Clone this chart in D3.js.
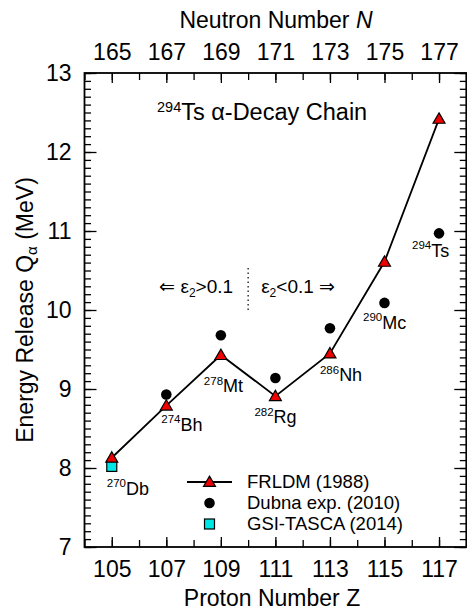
<!DOCTYPE html>
<html><head><meta charset="utf-8">
<script src="https://cdn.jsdelivr.net/npm/d3@7"></script>
<style>
html,body{margin:0;padding:0;background:#fff;}
svg{display:block;font-family:"Liberation Sans",Arial,sans-serif;}
</style></head>
<body>
<svg id="chart" width="467" height="611"></svg>
<script>
// ---- data ----
const protonZ = [105, 107, 109, 111, 113, 115, 117];
const frldm = [8.13, 8.79, 9.43, 8.91, 9.45, 10.61, 12.42];
const dubnaZ = [107, 109, 111, 113, 115, 117];
const dubna = [8.93, 9.68, 9.14, 9.77, 10.09, 10.97];
const gsiZ = [105];
const gsi = [8.02];
const nuclideMass = ["270", "274", "278", "282", "286", "290", "294"];
const nuclideSym = ["Db", "Bh", "Mt", "Rg", "Nh", "Mc", "Ts"];
const xTicks = [105, 107, 109, 111, 113, 115, 117];
const topTicks = [165, 167, 169, 171, 173, 175, 177];
const yTicks = [7, 8, 9, 10, 11, 12, 13];
const legendLabels = ["FRLDM (1988)", "Dubna exp. (2010)", "GSI-TASCA (2014)"];

// ---- layout ----
const svg = d3.select("#chart");
const L = 84.5, R = 466.3, T = 73, B = 547;
const x = d3.scaleLinear().domain([104, 118]).range([L, R]);
const y = d3.scaleLinear().domain([7, 13]).range([B, T]);
const FONT = 23;

// frame
svg.append("rect").attr("x", L).attr("y", T).attr("width", R - L).attr("height", B - T)
  .attr("fill", "none").attr("stroke", "#000").attr("stroke-width", 1.8);

function styleAxis(g) {
  g.select(".domain").remove();
  g.selectAll(".tick line").attr("stroke", "#000").attr("stroke-width", 1.3);
  g.selectAll("text").attr("font-size", FONT).attr("fill", "#000").attr("font-family", "Liberation Sans, Arial, sans-serif");
}
const xMinor = d3.range(104, 119, 1);
const yMinor = d3.range(70, 131, 1).map(v => v / 10);

// bottom
svg.append("g").attr("transform", `translate(0,${B})`)
  .call(d3.axisBottom(x).tickValues(xMinor).tickSize(-7).tickFormat("")).call(styleAxis);
svg.append("g").attr("transform", `translate(0,${B})`)
  .call(d3.axisBottom(x).tickValues(xTicks).tickSize(-10).tickPadding(14).tickFormat(d3.format("d"))).call(styleAxis);
// top (neutron number N = Z + 60)
const xN = d3.scaleLinear().domain([164, 178]).range([L, R]);
svg.append("g").attr("transform", `translate(0,${T})`)
  .call(d3.axisTop(xN).tickValues(xMinor.map(v => v + 60)).tickSize(-7).tickFormat("")).call(styleAxis);
svg.append("g").attr("transform", `translate(0,${T})`)
  .call(d3.axisTop(xN).tickValues(topTicks).tickSize(-10).tickPadding(13).tickFormat(d3.format("d"))).call(styleAxis);
// left
svg.append("g").attr("transform", `translate(${L},0)`)
  .call(d3.axisLeft(y).tickValues(yMinor).tickSize(-6.5).tickFormat("")).call(styleAxis);
svg.append("g").attr("transform", `translate(${L},0)`)
  .call(d3.axisLeft(y).tickValues(yTicks).tickSize(-12).tickPadding(13).tickFormat(d3.format("d"))).call(styleAxis);
// right
svg.append("g").attr("transform", `translate(${R},0)`)
  .call(d3.axisRight(y).tickValues(yMinor).tickSize(-6.5).tickFormat("")).call(styleAxis);
svg.append("g").attr("transform", `translate(${R},0)`)
  .call(d3.axisRight(y).tickValues(yTicks).tickSize(-12).tickFormat("")).call(styleAxis);

// axis titles
svg.append("text").attr("x", 272).attr("y", 606).attr("text-anchor", "middle")
  .attr("font-size", FONT).text("Proton Number Z");
const topTitle = svg.append("text").attr("x", 276).attr("y", 28).attr("text-anchor", "middle").attr("font-size", FONT);
topTitle.append("tspan").text("Neutron Number ");
topTitle.append("tspan").attr("font-style", "italic").text("N");
const yl = svg.append("text").attr("transform", `translate(33,${(T + B) / 2}) rotate(-90)`)
  .attr("text-anchor", "middle").attr("font-size", FONT);
yl.append("tspan").text("Energy Release Q");
yl.append("tspan").attr("font-size", 15).attr("dy", 4).text("α");
yl.append("tspan").attr("dy", -4).text(" (MeV)");

// chart title
const title = svg.append("text").attr("x", 157).attr("y", 120).attr("font-size", 23.5);
title.append("tspan").attr("font-size", 14.5).attr("dy", -8).text("294");
title.append("tspan").attr("dy", 8).text("Ts α-Decay Chain");

// deformation annotation
svg.append("line").attr("x1", x(110)).attr("x2", x(110)).attr("y1", y(10.0)).attr("y2", y(10.55))
  .attr("stroke", "#000").attr("stroke-width", 1.2).attr("stroke-dasharray", "1.5,3");
const a1 = svg.append("text").attr("x", x(110) - 15).attr("y", 293).attr("text-anchor", "end").attr("font-size", 19);
a1.append("tspan").text("⇐ ε");
a1.append("tspan").attr("font-size", 12).attr("dy", 4).text("2");
a1.append("tspan").attr("dy", -4).text(">0.1");
const a2 = svg.append("text").attr("x", x(110) + 13).attr("y", 293).attr("font-size", 19);
a2.append("tspan").text("ε");
a2.append("tspan").attr("font-size", 12).attr("dy", 4).text("2");
a2.append("tspan").attr("dy", -4).text("<0.1 ⇒");

// FRLDM line
const frPts = protonZ.map((z, i) => [z, frldm[i]]);
svg.append("path").datum(frPts)
  .attr("d", d3.line().x(d => x(d[0])).y(d => y(d[1])))
  .attr("fill", "none").attr("stroke", "#000").attr("stroke-width", 1.8);

const tri = d3.symbol().type(d3.symbolTriangle).size(62);
const circ = d3.symbol().type(d3.symbolCircle).size(88);

// Dubna circles
svg.append("g").selectAll("path").data(dubnaZ.map((z, i) => [z, dubna[i]])).join("path")
  .attr("transform", d => `translate(${x(d[0])},${y(d[1])})`).attr("d", circ).attr("fill", "#000");
// GSI squares
svg.append("g").selectAll("rect").data(gsiZ.map((z, i) => [z, gsi[i]])).join("rect")
  .attr("x", d => x(d[0]) - 5).attr("y", d => y(d[1]) - 5).attr("width", 10).attr("height", 10)
  .attr("fill", "#00e5e5").attr("stroke", "#000").attr("stroke-width", 1.2);
// FRLDM triangles
svg.append("g").selectAll("path").data(frPts).join("path")
  .attr("transform", d => `translate(${x(d[0])},${y(d[1]) + 1})`).attr("d", tri)
  .attr("fill", "#ee0000").attr("stroke", "#000").attr("stroke-width", 1.2);

// nuclide labels (pixel offsets relative to FRLDM point)
const labOff = [[-5, 37], [-5, 25], [-17, 37], [-21, 27], [-10, 28], [-21.5, 67], [-27, 138]];
const labs = svg.append("g");
protonZ.forEach((z, i) => {
  const t = labs.append("text").attr("x", x(z) + labOff[i][0]).attr("y", y(frldm[i]) + labOff[i][1]).attr("font-size", 18);
  t.append("tspan").attr("font-size", 11.5).attr("dy", -7.5).text(nuclideMass[i]);
  t.append("tspan").attr("dy", 7.5).text(nuclideSym[i]);
});

// legend
const lg = svg.append("g");
const lx = 187, ly = 482, lstep = 21;
lg.append("line").attr("x1", lx).attr("x2", lx + 45).attr("y1", ly).attr("y2", ly).attr("stroke", "#000").attr("stroke-width", 1.8);
lg.append("path").attr("transform", `translate(${lx + 22.5},${ly + 1})`).attr("d", tri).attr("fill", "#ee0000").attr("stroke", "#000").attr("stroke-width", 1.2);
lg.append("path").attr("transform", `translate(${lx + 22.5},${ly + lstep})`).attr("d", circ).attr("fill", "#000");
lg.append("rect").attr("x", lx + 17.5).attr("y", ly + 2 * lstep - 5).attr("width", 10).attr("height", 10)
  .attr("fill", "#00e5e5").attr("stroke", "#000").attr("stroke-width", 1.2);
legendLabels.forEach((s, i) => {
  lg.append("text").attr("x", 247).attr("y", ly + i * lstep + 6).attr("font-size", 18.5).text(s);
});
</script>
</body></html>
